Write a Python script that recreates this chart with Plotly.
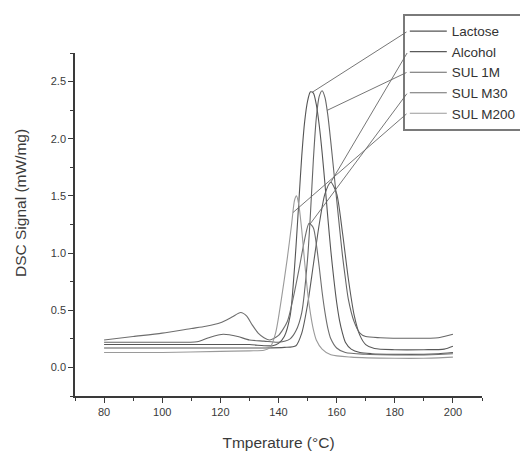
import plotly.graph_objects as go
import numpy as np

# ---------------- data ----------------
series_names = ["Lactose", "Alcohol", "SUL 1M", "SUL M30", "SUL M200"]

lactose_T = [80, 100, 120, 130, 135, 138, 140, 142, 144, 145, 146, 147, 148, 149, 150, 151, 152, 153,
             154, 155, 156, 157, 158, 159, 160, 161, 162, 163, 165, 168, 172, 180, 190, 195, 200]
lactose_V = [0.20, 0.20, 0.20, 0.20, 0.19, 0.19, 0.21, 0.27, 0.45, 0.70, 1.05, 1.45, 1.85, 2.15, 2.33, 2.41, 2.40, 2.30,
             2.12, 1.88, 1.60, 1.30, 1.02, 0.78, 0.57, 0.41, 0.30, 0.22, 0.16, 0.13, 0.12, 0.115, 0.115, 0.12, 0.13]

alcohol_T = [80, 100, 120, 135, 142, 146, 148, 150, 152, 154, 156, 158, 160, 162, 164, 166, 168, 170, 173, 180, 190, 197, 200]
alcohol_V = [0.17, 0.17, 0.17, 0.17, 0.175, 0.19, 0.30, 0.55, 0.90, 1.25, 1.52, 1.62, 1.52, 1.18, 0.78, 0.46, 0.28, 0.20,
             0.165, 0.155, 0.155, 0.16, 0.185]

sul1m_T = [80, 100, 112, 116, 121, 126, 130, 135, 140, 144, 146, 148, 150, 151, 152, 153, 154, 155, 156, 157, 158,
           159, 160, 161, 162, 163, 164, 166, 168, 170, 175, 185, 195, 200]
sul1m_V = [0.22, 0.22, 0.225, 0.26, 0.29, 0.27, 0.24, 0.23, 0.22, 0.25, 0.32, 0.48, 0.95, 1.35, 1.82, 2.18, 2.37, 2.42,
           2.36, 2.20, 1.97, 1.72, 1.47, 1.22, 0.98, 0.78, 0.60, 0.40, 0.30, 0.27, 0.26, 0.255, 0.26, 0.29]

sulm30_T = [80, 90, 100, 110, 115, 120, 124, 127, 129, 131, 133, 135, 137, 140, 143, 145, 147, 149, 150.5, 152, 153,
            154, 155, 156, 157, 158, 160, 163, 170, 180, 190, 200]
sulm30_V = [0.24, 0.27, 0.30, 0.34, 0.36, 0.39, 0.44, 0.48, 0.45, 0.37, 0.30, 0.26, 0.24, 0.28, 0.40, 0.60, 0.85, 1.12,
            1.26, 1.22, 1.08, 0.88, 0.66, 0.48, 0.34, 0.25, 0.17, 0.13, 0.115, 0.11, 0.11, 0.12]

sulm200_T = [80, 100, 120, 130, 135, 137, 139, 141, 143, 144.5, 145.5, 146.2, 147, 148, 149, 150, 151, 152, 153, 155,
             158, 165, 180, 190, 200]
sulm200_V = [0.13, 0.13, 0.14, 0.145, 0.15, 0.17, 0.30, 0.60, 0.95, 1.25, 1.46, 1.50, 1.42, 1.20, 0.92, 0.66, 0.47,
             0.33, 0.24, 0.16, 0.11, 0.09, 0.08, 0.08, 0.09]

series_T = [lactose_T, alcohol_T, sul1m_T, sulm30_T, sulm200_T]
series_V = [lactose_V, alcohol_V, sul1m_V, sulm30_V, sulm200_V]
# temperature at which each legend leader line touches its curve
leader_T = [151.5, 158.0, 156.7, 150.8, 145.0]

x_ticks = [80, 100, 120, 140, 160, 180, 200]
y_ticks = [0.0, 0.5, 1.0, 1.5, 2.0, 2.5]
x_title = "Tmperature (°C)"
y_title = "DSC Signal (mW/mg)"

# ---------------- style / layout ----------------
# the page body adds an 8px margin, so the figure is sized/offset to compensate
W, H = 520, 443
ML, MR, MT, MB = 67, 46, 45, 55
XR = [70, 210]
YR = [-0.25, 2.75]
colors = ["#555555", "#5a5a5a", "#666666", "#6e6e6e", "#9a9a9a"]
ink = "#3a3a3a"
FONT = "Liberation Sans, Arial, sans-serif"

fig = go.Figure()
for name, T, V, c in zip(series_names, series_T, series_V, colors):
    fig.add_trace(go.Scatter(x=T, y=V, mode="lines", name=name,
                             line=dict(color=c, width=1.1, shape="spline", smoothing=0.7)))

pw = W - ML - MR
ph = H - MT - MB
leg_left_px = 395
leg_top_px = 6
entry_y_px = [23, 43.5, 63.8, 84.2, 104.6]
start_x_px = 400
for i, (T, V) in enumerate(zip(series_T, series_V)):
    xt = leader_T[i]
    yt = float(np.interp(xt, T, V))
    ax = XR[0] + (start_x_px - ML) * (XR[1] - XR[0]) / pw
    ay = YR[0] + (H - MB - entry_y_px[i]) * (YR[1] - YR[0]) / ph
    fig.add_annotation(x=xt, y=yt, xref="x", yref="y", ax=ax, ay=ay, axref="x", ayref="y",
                       text="", showarrow=True, arrowhead=0, arrowwidth=0.9,
                       arrowcolor="#666666", standoff=0, startstandoff=0)

# y-axis title (placed slightly above the axis centre, as in the original)
fig.add_annotation(text=y_title, textangle=-90, xref="paper", yref="paper",
                   x=(12 - ML) / pw, y=(H - MB - 195) / ph, xanchor="center", yanchor="middle",
                   showarrow=False, font=dict(family=FONT, size=15.5, color=ink))

fig.update_layout(
    width=W, height=H,
    margin=dict(l=ML, r=MR, t=MT, b=MB, autoexpand=False),
    paper_bgcolor="white", plot_bgcolor="white",
    font=dict(family=FONT, color=ink, size=11),
    showlegend=True,
    legend=dict(x=(leg_left_px - ML) / pw, y=(H - MB - leg_top_px) / ph, xanchor="left", yanchor="top",
                bgcolor="white", bordercolor="#7a7a7a", borderwidth=1.8,
                font=dict(family=FONT, size=13.5, color="#333333"),
                tracegroupgap=0, itemwidth=37),
    xaxis=dict(range=XR, tickvals=x_ticks, ticktext=[str(v) for v in x_ticks],
               showline=True, linecolor=ink, linewidth=1.5, showgrid=False, zeroline=False,
               ticks="outside", ticklen=5, tickwidth=1.2, tickcolor=ink,
               minor=dict(dtick=10, tick0=70, ticks="outside", ticklen=3, tickwidth=1, tickcolor=ink, showgrid=False),
               tickfont=dict(size=11),
               title=dict(text=x_title, font=dict(size=15.5), standoff=20)),
    yaxis=dict(range=YR, tickvals=y_ticks, ticktext=[f"{v:.1f}" for v in y_ticks],
               showline=True, linecolor=ink, linewidth=1.5, showgrid=False, zeroline=False,
               ticks="outside", ticklen=5, tickwidth=1.2, tickcolor=ink,
               minor=dict(dtick=0.25, tick0=-0.25, ticks="outside", ticklen=3, tickwidth=1, tickcolor=ink, showgrid=False),
               tickfont=dict(size=11)),
)

fig.write_html("out.html")
